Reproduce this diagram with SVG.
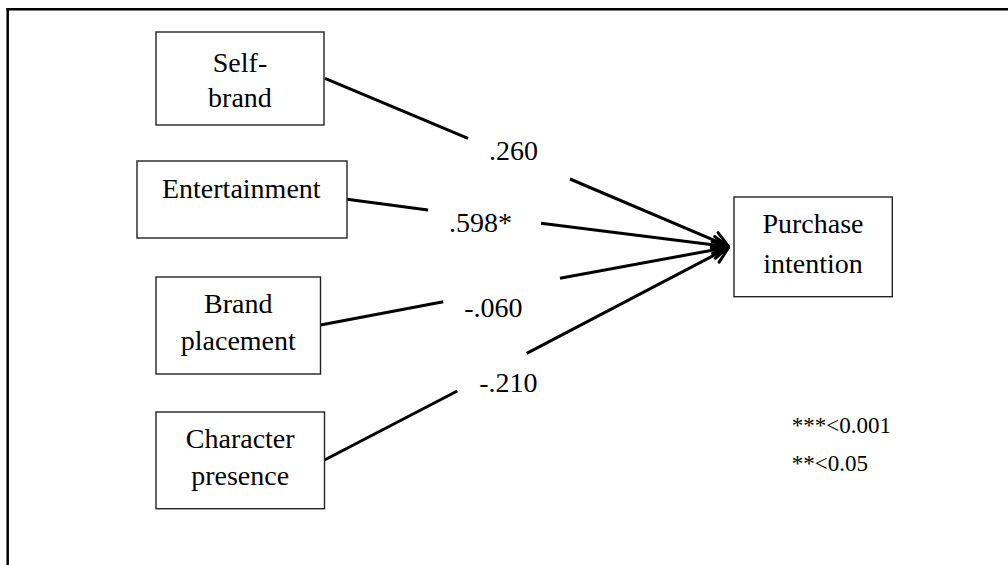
<svg xmlns="http://www.w3.org/2000/svg" width="1008" height="565" viewBox="0 0 1008 565">
  <style>
    .box { fill: #ffffff; stroke: #222222; stroke-width: 1.4; }
    text { font-family: 'Liberation Serif', 'Times New Roman', serif; fill: #000000; }
    .lbl { font-size: 28px; text-anchor: middle; }
    .coef { font-size: 28px; }
    .note { font-size: 23px; }
    .path { fill: none; stroke: #000000; stroke-width: 3; stroke-linecap: butt; }
  </style>
  <defs>
    <marker id="vhead" markerUnits="userSpaceOnUse" markerWidth="30" markerHeight="30" viewBox="-20 -15 30 30" refX="0" refY="0" orient="auto">
      <path d="M-15,-8.5 L0,0 L-15,8.5" fill="none" stroke="#000000" stroke-width="3" stroke-linejoin="round" stroke-linecap="round"/>
    </marker>
  </defs>

  <rect width="1008" height="565" fill="#ffffff"/>

  <!-- outer frame: top and left rules only -->
  <g id="frame">
    <line x1="7.7" y1="8" x2="7.7" y2="565" stroke="#000000" stroke-width="2.5"/>
    <line x1="6.5" y1="9.3" x2="1008" y2="9.3" stroke="#000000" stroke-width="2.5"/>
  </g>

  <!-- connectors, each broken where its coefficient sits -->
  <g id="connectors">
    <line class="path" x1="325" y1="78.3" x2="468" y2="138.3"/>
    <line class="path" x1="570" y1="179" x2="728.5" y2="246.3" marker-end="url(#vhead)"/>

    <line class="path" x1="347" y1="199.3" x2="428" y2="210"/>
    <line class="path" x1="541" y1="223.3" x2="728.5" y2="246.8" marker-end="url(#vhead)"/>

    <line class="path" x1="320.5" y1="325" x2="443.3" y2="301.7"/>
    <line class="path" x1="560" y1="278.3" x2="728.5" y2="247.2" marker-end="url(#vhead)"/>

    <line class="path" x1="324.5" y1="460" x2="457.3" y2="391"/>
    <line class="path" x1="526.7" y1="353.3" x2="728.5" y2="247.7" marker-end="url(#vhead)"/>

    <text class="coef" x="489" y="160">.260</text>
    <text class="coef" x="449" y="232">.598*</text>
    <text class="coef" x="464.3" y="316.7">-.060</text>
    <text class="coef" x="479.3" y="391.7">-.210</text>
  </g>

  <g id="self-brand">
    <rect class="box" x="156" y="32" width="168" height="93"/>
    <text class="lbl" x="240" y="71.7">Self-</text>
    <text class="lbl" x="240" y="107.3">brand</text>
  </g>

  <g id="entertainment">
    <rect class="box" x="137" y="161" width="210" height="77"/>
    <text class="lbl" x="241.3" y="197.7">Entertainment</text>
  </g>

  <g id="brand-placement">
    <rect class="box" x="156" y="277" width="164.5" height="97"/>
    <text class="lbl" x="238.3" y="313.3">Brand</text>
    <text class="lbl" x="238.3" y="350">placement</text>
  </g>

  <g id="character-presence">
    <rect class="box" x="156" y="412" width="168.5" height="96.7"/>
    <text class="lbl" x="240.2" y="448.3">Character</text>
    <text class="lbl" x="240.2" y="485">presence</text>
  </g>

  <g id="purchase-intention">
    <rect class="box" x="734" y="197" width="158.3" height="99.7"/>
    <text class="lbl" x="813" y="233">Purchase</text>
    <text class="lbl" x="813" y="272.7">intention</text>
  </g>

  <g id="significance-key">
    <text class="note" x="791.7" y="432.7">***&lt;0.001</text>
    <text class="note" x="791.7" y="470.7">**&lt;0.05</text>
  </g>
</svg>
